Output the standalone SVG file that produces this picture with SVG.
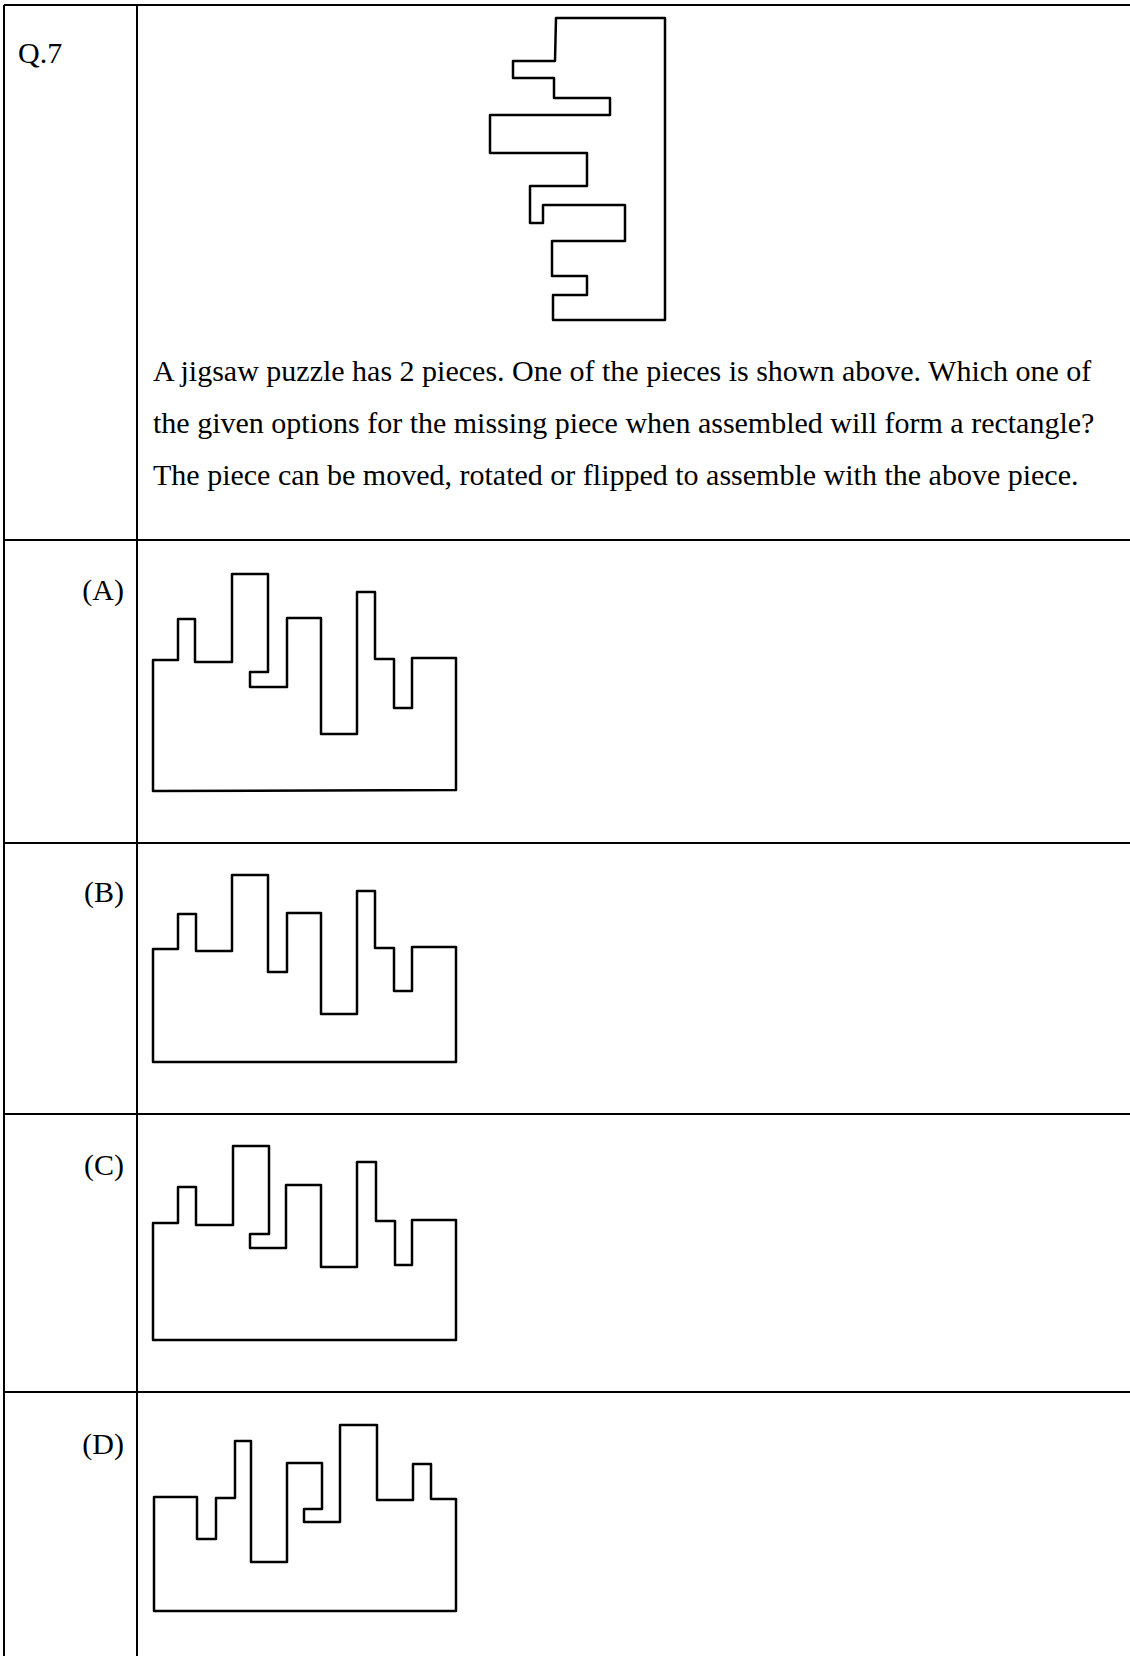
<svg xmlns="http://www.w3.org/2000/svg" width="1130" height="1656" viewBox="0 0 1130 1656">
<style>
.grid{stroke:#000;stroke-width:2;fill:none}
.piece{stroke:#000;stroke-width:2.5;fill:none;stroke-linejoin:round}
.t{font-family:"Liberation Serif","Times New Roman",serif;font-size:30px;fill:#000}
</style>
<rect width="1130" height="1656" fill="#fff"/>
<g id="table">
<line class="grid" x1="4" y1="5" x2="1130" y2="5"/>
<line class="grid" x1="4" y1="5" x2="4" y2="1656"/>
<line class="grid" x1="137" y1="5" x2="137" y2="1656"/>
<line class="grid" x1="4" y1="540" x2="1130" y2="540"/>
<line class="grid" x1="4" y1="843" x2="1130" y2="843"/>
<line class="grid" x1="4" y1="1114" x2="1130" y2="1114"/>
<line class="grid" x1="4" y1="1392" x2="1130" y2="1392"/>
</g>
<g id="question">
<text class="t" x="18" y="63">Q.7</text>
<path class="piece" d="M556,18 H665 V320 H553 V295 H587 V276 H552 V241 H625 V205 H543 V223 H530 V186 H587 V153 H490 V115 H610 V98 H554 V78 H513 V61 H555 Z"/>
<text class="t" x="153" y="381">A jigsaw puzzle has 2 pieces. One of the pieces is shown above. Which one of</text>
<text class="t" x="153" y="433">the given options for the missing piece when assembled will form a rectangle?</text>
<text class="t" x="153" y="485">The piece can be moved, rotated or flipped to assemble with the above piece.</text>
</g>
<g id="optionA">
<text class="t" x="124" y="600" text-anchor="end">(A)</text>
<path class="piece" d="M153,791 V660 H178 V619 H195 V662 H232 V574 H268 V672 H250 V687 H287 V618 H321 V734 H357 V592 H375 V659 H394 V708 H412 V658 H456 V790 Z"/>
</g>
<g id="optionB">
<text class="t" x="124" y="902" text-anchor="end">(B)</text>
<path class="piece" d="M153,1062 V949 H178 V914 H196 V951 H232 V875 H268 V972 H287 V913 H321 V1014 H357 V891 H375 V948 H394 V991 H412 V947 H456 V1062 Z"/>
</g>
<g id="optionC">
<text class="t" x="124" y="1175" text-anchor="end">(C)</text>
<path class="piece" d="M153,1340 V1223 H178 V1187 H196 V1225 H233 V1146 H269 V1234 H250 V1248 H286 V1185 H321 V1267 H357 V1162 H376 V1221 H395 V1265 H412 V1220 H456 V1340 Z"/>
</g>
<g id="optionD">
<text class="t" x="124" y="1454" text-anchor="end">(D)</text>
<path class="piece" d="M154,1611 V1497 H197 V1539 H216 V1498 H235 V1441 H251 V1562 H287 V1463 H322 V1509 H304 V1522 H340 V1425 H377 V1500 H413 V1464 H431 V1499 H456 V1611 Z"/>
</g>
</svg>
